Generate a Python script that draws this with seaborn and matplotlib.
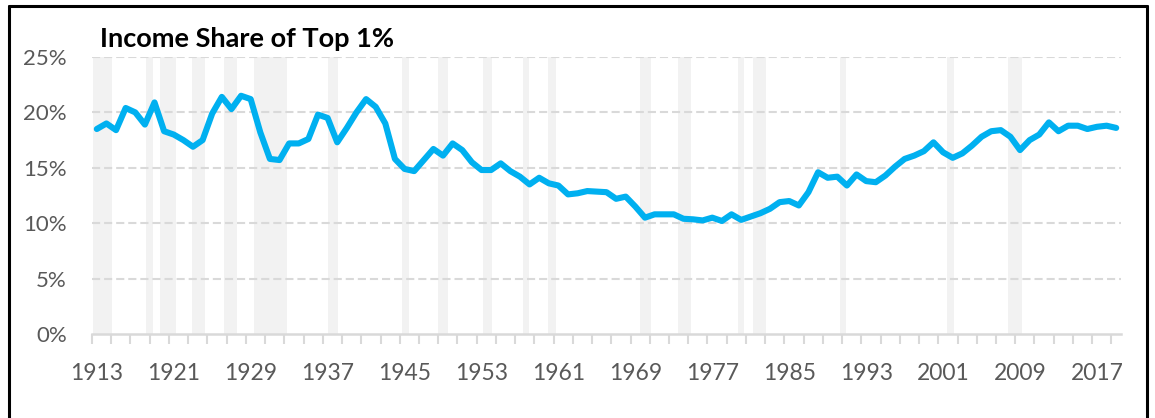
import matplotlib
matplotlib.use("Agg")
import matplotlib.pyplot as plt
from matplotlib.lines import Line2D
from matplotlib.ticker import FixedLocator, FuncFormatter
import seaborn as sns
import pandas as pd

# income share of the top 1% (percent), one value per year from 1913
share = [
    18.5, 19.0, 18.4, 20.4, 20.0, 18.9, 20.9, 18.3, 18.0, 17.5,   # 1913-1922
    16.9, 17.5, 19.9, 21.4, 20.3, 21.5, 21.2, 18.2, 15.8, 15.7,   # 1923-1932
    17.2, 17.2, 17.6, 19.8, 19.5, 17.3, 18.6, 20.0, 21.2, 20.5,   # 1933-1942
    19.0, 15.8, 14.9, 14.7, 15.7, 16.7, 16.1, 17.2, 16.6, 15.5,   # 1943-1952
    14.8, 14.8, 15.4, 14.7, 14.2, 13.5, 14.1, 13.6, 13.4, 12.6,   # 1953-1962
    12.7, 12.9, 12.85, 12.8, 12.2, 12.4, 11.5, 10.5, 10.8, 10.8,  # 1963-1972
    10.8, 10.4, 10.35, 10.25, 10.5, 10.2, 10.8, 10.3, 10.6, 10.9, # 1973-1982
    11.3, 11.9, 12.0, 11.6, 12.8, 14.6, 14.1, 14.2, 13.4, 14.4,   # 1983-1992
    13.8, 13.7, 14.3, 15.1, 15.8, 16.1, 16.5, 17.3, 16.4, 15.9,   # 1993-2002
    16.3, 17.0, 17.8, 18.3, 18.4, 17.8, 16.6, 17.5, 18.0, 19.1,   # 2003-2012
    18.3, 18.8, 18.8, 18.5, 18.7, 18.8, 18.6,                     # 2013-2019
]
years = list(range(1913, 1913 + len(share)))

# recession periods (shaded), in years
rec_start = [1912.6, 1918.1, 1919.6, 1922.9, 1926.25, 1929.3, 1937.0, 1944.7,
             1948.5, 1953.2, 1957.3, 1959.9, 1969.5, 1973.4, 1979.7, 1981.2,
             1990.3, 2001.4, 2007.7]
rec_end = [1914.6, 1918.8, 1921.2, 1924.2, 1927.6, 1932.8, 1938.1, 1945.5,
           1949.5, 1954.1, 1957.9, 1960.8, 1970.6, 1974.8, 1980.3, 1982.6,
           1990.9, 2002.1, 2009.2]

label_years = list(range(1913, 2019, 8))
y_ticks = [0, 5, 10, 15, 20, 25]

df = pd.DataFrame({"year": years, "share": share})

sns.set_style("white")
plt.rcParams['font.family'] = ['Lato', 'DejaVu Sans']

fig = plt.figure(figsize=(11.55, 4.18), dpi=100)
ax = fig.add_axes([92 / 1155, 1 - 334 / 418, (1121 - 92) / 1155, (334 - 57) / 418])

for s, e in zip(rec_start, rec_end):
    ax.axvspan(s, e, color="#F2F2F2", lw=0, zorder=0)

for v in y_ticks[1:]:
    ax.axhline(v, color="#D9D9D9", lw=1.5, ls=(0, (3.9, 1.9)), zorder=1)

sns.lineplot(data=df, x="year", y="share", color="#00B0F0", lw=4.4, ax=ax,
             zorder=3, solid_capstyle="round", solid_joinstyle="round")

ax.set_xlim(1912.5, 2019.5)
ax.set_ylim(0, 25)
ax.set_xlabel("")
ax.set_ylabel("")

for side in ["top", "right", "left"]:
    ax.spines[side].set_visible(False)
ax.spines["bottom"].set_color("#D9D9D9")
ax.spines["bottom"].set_linewidth(1.8)
ax.spines["bottom"].set_zorder(2)

ax.xaxis.set_major_locator(FixedLocator(label_years))
ax.xaxis.set_minor_locator(FixedLocator([1912.5 + 2 * k for k in range(54)]))
ax.tick_params(axis="x", which="major", length=0, pad=21, labelsize=16.5,
               labelcolor="#595959")
ax.tick_params(axis="x", which="minor", length=7, width=1.5, color="#D9D9D9",
               direction="out", bottom=True)
ax.set_yticks(y_ticks)
ax.yaxis.set_major_formatter(FuncFormatter(lambda v, p: f"{v:.0f}%"))
ax.tick_params(axis="y", length=0, pad=18, labelsize=16, labelcolor="#595959")

fig.text(100 / 1155, 1 - 47 / 418, "Income Share of Top 1%", fontsize=19.5,
         fontweight="bold", color="black", va="baseline", ha="left")

# chart border
bw = 2.2
fig.add_artist(Line2D([9 / 1155, 9 / 1155], [0, 1 - 6 / 418], color="black", lw=bw))
fig.add_artist(Line2D([9 / 1155, 1147 / 1155], [1 - 6 / 418, 1 - 6 / 418], color="black", lw=bw))
fig.add_artist(Line2D([1147 / 1155, 1147 / 1155], [0, 1 - 6 / 418], color="black", lw=bw))

fig.savefig("out.png", dpi=100)
